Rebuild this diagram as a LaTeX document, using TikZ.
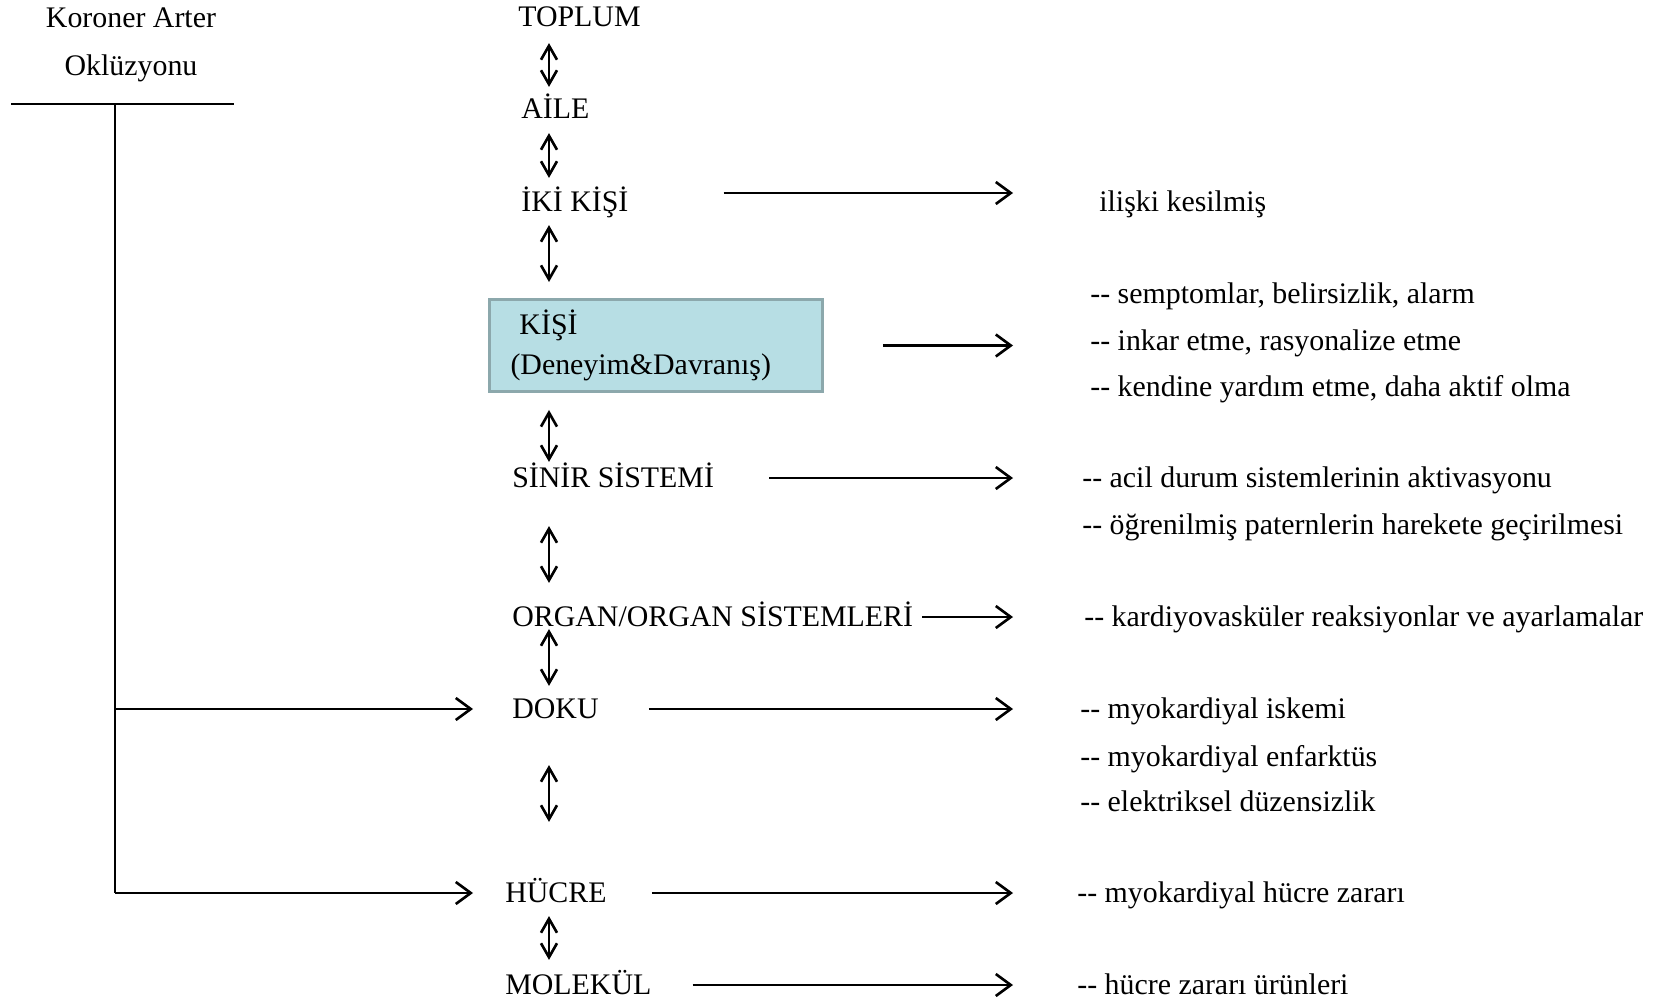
\documentclass[tikz,border=0pt]{standalone}
\usepackage{fontspec}
\setmainfont{Liberation Serif}
\usetikzlibrary{arrows.meta,positioning}
\definecolor{boxfill}{RGB}{183,222,228}
\definecolor{boxline}{RGB}{140,168,172}

\begin{document}
\begin{tikzpicture}[
    x=0.02cm, y=-0.02cm,
    level/.style={anchor=west, inner sep=0pt, text height=0.42cm, text depth=0.05cm, font=\fontsize{17}{20}\selectfont},
    note/.style={level},
    arr/.style={-{Straight Barb[length=0.3cm,width=0.44cm]}, line width=1.5pt},
    dbl/.style={{Straight Barb[length=0.28cm,width=0.32cm]}-{Straight Barb[length=0.28cm,width=0.32cm]}, line width=1.5pt},
    plain/.style={line width=1.5pt}
]
\useasboundingbox (0,0) rectangle (1667,1000);

% Left side: occlusion
\node[align=center, inner sep=0pt, font=\fontsize{17}{27}\selectfont] (koroner) at (131,45) {Koroner Arter\\Oklüzyonu};
\coordinate (barl) at (11,104);
\coordinate (barr) at (234,104);
\coordinate (stem) at (115,104);
\coordinate (axis) at (549,0);

% Levels from top to bottom
\node[level] (toplum) at (518,17) {TOPLUM};
\node[level] (aile) at (521,109) {AİLE};
\node[level] (iki) at (521,202) {İKİ KİŞİ};
\node[draw=boxline, fill=boxfill, line width=0.06cm, anchor=north west, minimum width=6.66cm, minimum height=1.84cm,
      text width=5.82cm, inner xsep=0.42cm, align=left, font=\fontsize{17}{23}\selectfont] (kisi) at (488,298)
      {\hspace{0.18cm}KİŞİ\\(Deneyim\&Davranış)};
\node[level] (sinir) at (512,478) {SİNİR SİSTEMİ};
\node[level] (organ) at (512,617) {ORGAN/ORGAN SİSTEMLERİ};
\node[level] (doku) at (512,709) {DOKU};
\node[level] (hucre) at (505,893) {HÜCRE};
\node[level] (molekul) at (505,985) {MOLEKÜL};

% Right side notes
\node[note] (iliski) at (1099,202) {ilişki kesilmiş};
\node[note] (semptom) at (1090,294) {-{}- semptomlar, belirsizlik, alarm};
\node[note] (inkar) at (1090,341) {-{}- inkar etme, rasyonalize etme};
\node[note] (yardim) at (1090,387) {-{}- kendine yardım etme, daha aktif olma};
\node[note] (acil) at (1082,478) {-{}- acil durum sistemlerinin aktivasyonu};
\node[note] (ogren) at (1082,525) {-{}- öğrenilmiş paternlerin harekete geçirilmesi};
\node[note] (kardiyo) at (1084,617) {-{}- kardiyovasküler reaksiyonlar ve ayarlamalar};
\node[note] (iskemi) at (1080,709) {-{}- myokardiyal iskemi};
\node[note] (enfarkt) at (1080,757) {-{}- myokardiyal enfarktüs};
\node[note] (elektrik) at (1080,802) {-{}- elektriksel düzensizlik};
\node[note] (hasar) at (1077,893) {-{}- myokardiyal hücre zararı};
\node[note] (urun) at (1077,985) {-{}- hücre zararı ürünleri};

% Tree on the left
\draw[plain] (barl) -- (barr);
\draw[plain] (stem) -- (stem |- hucre.west);
\draw[arr, shorten >=0.78cm] (stem |- doku.west) -- (doku.west);
\draw[arr, shorten >=0.64cm] (stem |- hucre.west) -- (hucre.west);

% Two-way arrows between levels
\draw[dbl, shorten <=0.28cm, shorten >=0.2cm] (toplum.south -| axis) -- (aile.north -| axis);
\draw[dbl, shorten <=0.24cm, shorten >=0.24cm] (aile.south -| axis) -- (iki.north -| axis);
\draw[dbl, shorten <=0.22cm, shorten >=0.32cm] (iki.south -| axis) -- (kisi.north -| axis);
\draw[dbl, shorten <=0.34cm, shorten >=0.08cm] (kisi.south -| axis) -- (sinir.north -| axis);
\draw[dbl, shorten <=0.72cm, shorten >=0.44cm] (sinir.south -| axis) -- (organ.north -| axis);
\draw[dbl, shorten >=0.22cm] (organ.south -| axis) -- (doku.north -| axis);
\draw[dbl, shorten <=0.88cm, shorten >=1.18cm] (doku.south -| axis) -- (hucre.north -| axis);
\draw[dbl, shorten <=0.22cm, shorten >=0.26cm] (hucre.south -| axis) -- (molekul.north -| axis);

% Arrows to the notes
\draw[arr, shorten <=1.9cm, shorten >=1.72cm] ([yshift=0.18cm]iki.east) -- ([yshift=0.18cm]iki.east -| iliski.west);
\draw[arr, shorten <=1.18cm, shorten >=1.54cm] (kisi.east) -- (kisi.east -| inkar.west);
\draw[arr, shorten <=1.1cm, shorten >=1.38cm] (sinir.east) -- (sinir.east -| acil.west);
\draw[arr, shorten <=0.18cm, shorten >=1.42cm] (organ.east) -- (organ.east -| kardiyo.west);
\draw[arr, shorten <=1.0cm, shorten >=1.34cm] (doku.east) -- (doku.east -| iskemi.west);
\draw[arr, shorten <=0.9cm, shorten >=1.28cm] (hucre.east) -- (hucre.east -| hasar.west);
\draw[arr, shorten <=0.82cm, shorten >=1.28cm] (molekul.east) -- (molekul.east -| urun.west);

\end{tikzpicture}
\end{document}
